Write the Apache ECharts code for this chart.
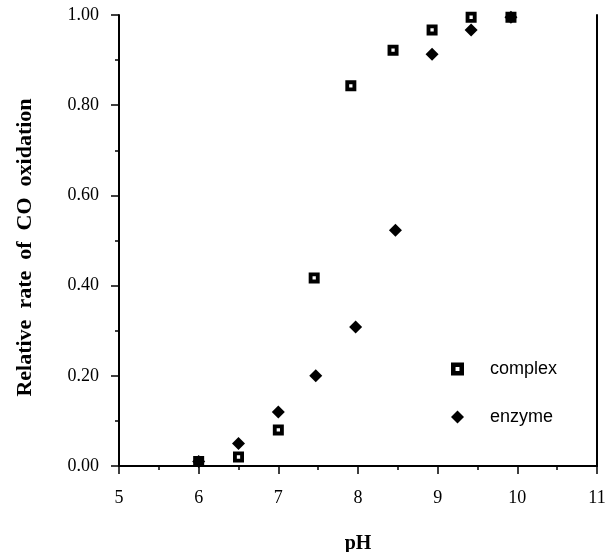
<!DOCTYPE html>
<html><head><meta charset="utf-8">
<script src="https://cdn.jsdelivr.net/npm/echarts@6/dist/echarts.min.js"></script>
<style>html,body{margin:0;padding:0;background:#fff}#c{width:605px;height:552px}</style>
</head><body><div id="c"></div>
<script>
const complexPH = [6.0, 6.5, 7.0, 7.45, 7.91, 8.44, 8.93, 9.42, 9.92];
const complexRate = [0.01, 0.02, 0.08, 0.417, 0.843, 0.922, 0.967, 0.995, 0.995];
const enzymePH = [6.0, 6.5, 7.0, 7.47, 7.97, 8.47, 8.93, 9.42, 9.92];
const enzymeRate = [0.01, 0.05, 0.12, 0.20, 0.308, 0.523, 0.913, 0.967, 0.995];
const xTicks = [5, 6, 7, 8, 9, 10, 11];
const yTicks = ['0.00', '0.20', '0.40', '0.60', '0.80', '1.00'];

const squareIcon = 'path://M0,0L10,0L10,10L0,10Z M3.5,3.5L3.5,6.5L6.5,6.5L6.5,3.5Z';
const serif = '"Liberation Serif", "DejaVu Serif", serif';
const sans = '"Liberation Sans", Arial, sans-serif';

const chart = echarts.init(document.getElementById('c'), null, {renderer: 'canvas'});
chart.setOption({
  animation: false,
  backgroundColor: '#fff',
  grid: {left: 119, right: 8, top: 15, bottom: 86, outerBoundsMode: 'none', containLabel: false},
  legend: {
    orient: 'vertical', left: 446, top: 355, itemGap: 30,
    itemWidth: 13, itemHeight: 13,
    textStyle: {fontFamily: sans, fontSize: 18, color: '#000', padding: [0, 0, 0, 21]},
    data: [{name: 'complex', icon: squareIcon}, {name: 'enzyme', icon: 'diamond'}]
  },
  xAxis: [{
    type: 'value', min: 5, max: 11, interval: 1,
    name: 'pH', nameLocation: 'middle', nameGap: 68,
    nameTextStyle: {fontFamily: serif, fontWeight: 'bold', fontSize: 20, color: '#000'},
    axisLine: {onZero: false, lineStyle: {color: '#000', width: 2}},
    axisTick: {inside: false, length: 8, lineStyle: {color: '#000', width: 1.5}},
    minorTick: {show: true, splitNumber: 2, length: 4, lineStyle: {color: '#000', width: 1.5}},
    splitLine: {show: false},
    axisLabel: {margin: 23, fontFamily: serif, fontSize: 18, color: '#000',
      formatter: v => xTicks.includes(v) ? String(v) : ''}
  }, {
    type: 'value', min: 5, max: 11, position: 'top',
    axisLine: {show: true, lineStyle: {color: '#000', width: 2}},
    axisTick: {show: false}, axisLabel: {show: false}, splitLine: {show: false}
  }],
  yAxis: [{
    type: 'value', min: 0, max: 1, interval: 0.2,
    name: 'Relative  rate  of  CO  oxidation', nameLocation: 'middle', nameGap: 83,
    nameTextStyle: {fontFamily: serif, fontWeight: 'bold', fontSize: 22, color: '#000', padding: [0, 14, 0, 0]},
    axisLine: {show: true, onZero: false, lineStyle: {color: '#000', width: 2}},
    axisTick: {inside: false, length: 8, lineStyle: {color: '#000', width: 1.5}},
    minorTick: {show: true, splitNumber: 2, length: 4, lineStyle: {color: '#000', width: 1.5}},
    splitLine: {show: false},
    axisLabel: {margin: 20, fontFamily: serif, fontSize: 18, color: '#000',
      formatter: v => yTicks[Math.round(v / 0.2)]}
  }, {
    type: 'value', min: 0, max: 1, position: 'right',
    axisLine: {show: true, lineStyle: {color: '#000', width: 2}},
    axisTick: {show: false}, axisLabel: {show: false}, splitLine: {show: false}
  }],
  series: [{
    name: 'complex', type: 'scatter', symbol: squareIcon, symbolSize: 11,
    itemStyle: {color: '#000', opacity: 1},
    data: complexPH.map((x, i) => [x, complexRate[i]])
  }, {
    name: 'enzyme', type: 'scatter', symbol: 'diamond', symbolSize: 13,
    itemStyle: {color: '#000', opacity: 1},
    data: enzymePH.map((x, i) => [x, enzymeRate[i]])
  }]
});
</script></body></html>
